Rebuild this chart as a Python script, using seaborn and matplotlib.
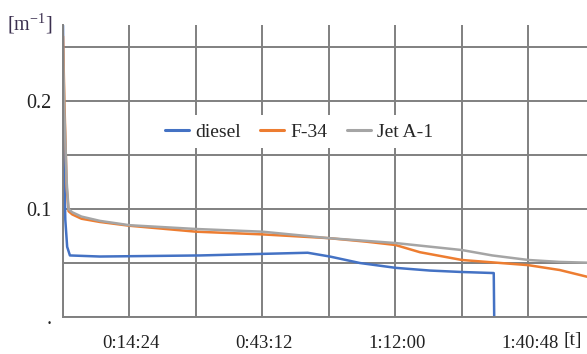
import matplotlib
matplotlib.use("Agg")
import matplotlib.pyplot as plt
import matplotlib.transforms as mtransforms
import seaborn as sns
import pandas as pd

# time in minutes since start, attenuation coefficient in 1/m
diesel_t = [0.0, 0.2, 0.5, 0.9, 1.5, 8.0, 29.7, 53.0, 57.8, 64.3, 72.1, 79.5, 86.2, 93.3, 93.4]
diesel_v = [0.27, 0.15, 0.09, 0.065, 0.057, 0.056, 0.057, 0.0595, 0.056, 0.050, 0.0455, 0.043, 0.0417, 0.0407, 0.0]

f34_t = [0.0, 0.3, 0.8, 1.2, 2.0, 4.0, 8.0, 14.4, 28.8, 43.2, 57.6, 65.8, 72.0, 77.3, 86.4, 100.8, 107.6, 113.5]
f34_v = [0.26, 0.20, 0.12, 0.098, 0.095, 0.091, 0.088, 0.0845, 0.079, 0.0765, 0.073, 0.0697, 0.0667, 0.060, 0.0528, 0.048, 0.0435, 0.0373]

jet_t = [0.0, 0.3, 0.8, 1.2, 2.0, 4.0, 8.0, 14.4, 28.8, 43.2, 57.6, 72.0, 86.4, 93.0, 100.8, 107.6, 113.5]
jet_v = [0.25, 0.19, 0.125, 0.100, 0.097, 0.093, 0.089, 0.085, 0.0815, 0.079, 0.073, 0.0685, 0.062, 0.057, 0.0528, 0.051, 0.0503]

series_names = ["diesel", "F-34", "Jet A-1"]
series_colors = ["#4472C4", "#ED7D31", "#A5A5A5"]

x_tick_minutes = [0.0, 14.4, 28.8, 43.2, 57.6, 72.0, 86.4, 100.8]
x_tick_labels = ["", "0:14:24", "", "0:43:12", "", "1:12:00", "", "1:40:48"]
y_ticks = [0.0, 0.05, 0.1, 0.15, 0.2, 0.25]
y_tick_labels = [".", "", "0.1", "", "0.2", ""]

frames = []
for name, t, v in [("diesel", diesel_t, diesel_v), ("F-34", f34_t, f34_v), ("Jet A-1", jet_t, jet_v)]:
    frames.append(pd.DataFrame({"t": t, "v": v, "fuel": name}))
df = pd.concat(frames, ignore_index=True)

sns.set_theme(style="white")
plt.rcParams["font.family"] = ["Liberation Serif", "DejaVu Serif"]
plt.rcParams["mathtext.fontset"] = "stix"

fig = plt.figure(figsize=(5.87, 3.54), dpi=100)
ax = fig.add_axes([63 / 587, 37 / 354, 524 / 587, 292 / 354])

sns.lineplot(data=df, x="t", y="v", hue="fuel", hue_order=series_names,
             palette=dict(zip(series_names, series_colors)),
             estimator=None, sort=False, linewidth=1.8, ax=ax)

ax.set_xlim(0, 113.5)
ax.set_ylim(0, 0.2704)
ax.set_xticks(x_tick_minutes)
ax.set_xticklabels(x_tick_labels)
ax.set_yticks(y_ticks)
ax.set_yticklabels(y_tick_labels)
ax.tick_params(axis="x", length=0, pad=13, labelsize=13.5, colors="#222222")
ax.tick_params(axis="y", length=0, pad=8, labelsize=14.5, colors="#222222")
ax.set_xlabel("")
ax.set_ylabel("")

# nudge the time labels slightly to the right of their grid lines
shift = mtransforms.ScaledTranslation(1.5 / 100, 0, fig.dpi_scale_trans)
for lbl in ax.get_xticklabels():
    lbl.set_transform(lbl.get_transform() + shift)

ax.grid(True, color="#808080", linewidth=1.4)
ax.set_axisbelow(True)
for side in ["top", "right"]:
    ax.spines[side].set_visible(False)
for side in ["left", "bottom"]:
    ax.spines[side].set_color("#808080")
    ax.spines[side].set_linewidth(1.4)

leg = ax.legend(loc="center", bbox_to_anchor=(0.45, 0.634), ncol=3, frameon=True,
                facecolor="white", edgecolor="none", framealpha=1.0,
                fontsize=14, handlelength=1.25, handletextpad=0.3,
                columnspacing=1.0, borderpad=0.4)
for line in leg.get_lines():
    line.set_linewidth(2.2)

fig.text(30 / 587, 1 - 24 / 354, "[m$^{\\mathregular{-1}}$]", ha="center", va="center",
         fontsize=14.5, color="#3b2f4f")
fig.text(573 / 587, 1 - 340 / 354, "[t]", ha="center", va="center",
         fontsize=14, color="#222222")

fig.savefig("out.png", dpi=100)
